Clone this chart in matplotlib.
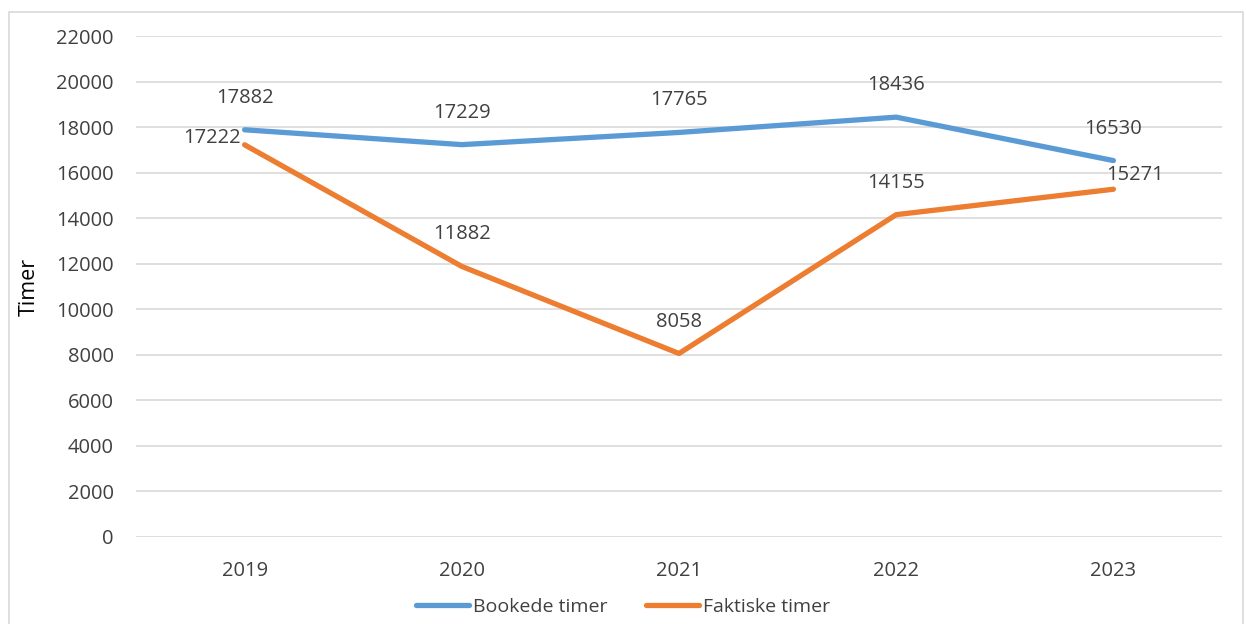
import matplotlib
matplotlib.use("Agg")
import matplotlib.pyplot as plt
from matplotlib.patches import Rectangle
from matplotlib.lines import Line2D

years = ["2019", "2020", "2021", "2022", "2023"]
booked = [17882, 17229, 17765, 18436, 16530]
actual = [17222, 11882, 8058, 14155, 15271]
yticks = list(range(0, 22001, 2000))

plt.rcParams['font.family'] = ['Open Sans', 'DejaVu Sans']

W, H = 1246, 624
fig = plt.figure(figsize=(W/100, H/100), dpi=100)
fig.patch.set_facecolor('white')

# outer chart border
fig.add_artist(Rectangle((9/W, -0.05), (1243-9)/W, 1.05 - 12/H, transform=fig.transFigure,
                         fill=False, edgecolor='#d9d9d9', linewidth=1.2))

ax = fig.add_axes([136/W, 1-537/H, (1222-136)/W, (537-36)/H])
x = list(range(len(years)))
blue = '#5B9BD5'
orange = '#ED7D31'
ax.plot(x, booked, color=blue, lw=3.8, solid_capstyle='round', zorder=3)
ax.plot(x, actual, color=orange, lw=3.8, solid_capstyle='round', zorder=3)

fs = 14.5
ax.set_xlim(-0.5, len(years)-0.5)
ax.set_ylim(0, 22000)
ax.set_yticks(yticks)
ax.set_yticklabels([str(v) for v in yticks])
ax.set_xticks(x)
ax.set_xticklabels(years)
ax.grid(axis='y', color='#d9d9d9', lw=1.2)
ax.set_axisbelow(True)
for s in ax.spines.values():
    s.set_visible(False)
ax.tick_params(axis='both', length=0, labelsize=fs, colors='#404040')
ax.tick_params(axis='y', pad=16)
ax.tick_params(axis='x', pad=17)
ax.set_ylabel('Timer', fontsize=15.5, color='#000000')
ax.yaxis.set_label_coords(-96/(1222-136), 0.5)

tc = '#404040'
for i, v in enumerate(booked):
    ax.annotate(str(v), (i, v), xytext=(0, 23), textcoords='offset points',
                ha='center', va='center', fontsize=fs, color=tc)
for i, v in enumerate(actual):
    if i == 0:
        ax.annotate(str(v), (i, v), xytext=(-3, 5), textcoords='offset points',
                    ha='right', va='center', fontsize=fs, color=tc)
    elif i == len(actual)-1:
        ax.annotate(str(v), (i, v), xytext=(-5, 10), textcoords='offset points',
                    ha='left', va='center', fontsize=fs, color=tc)
    else:
        ax.annotate(str(v), (i, v), xytext=(0, 23), textcoords='offset points',
                    ha='center', va='center', fontsize=fs, color=tc)

handles = [Line2D([], [], color=blue, lw=3.8, solid_capstyle='round'),
           Line2D([], [], color=orange, lw=3.8, solid_capstyle='round')]
leg = fig.legend(handles, ['Bookede timer', 'Faktiske timer'], loc='center',
                 bbox_to_anchor=(0.5, 1-607/H), ncol=2, frameon=False,
                 fontsize=14, handlelength=2.7, handletextpad=0.2, columnspacing=2.0)
for t in leg.get_texts():
    t.set_color(tc)

fig.savefig('out.png', dpi=100, facecolor='white')
